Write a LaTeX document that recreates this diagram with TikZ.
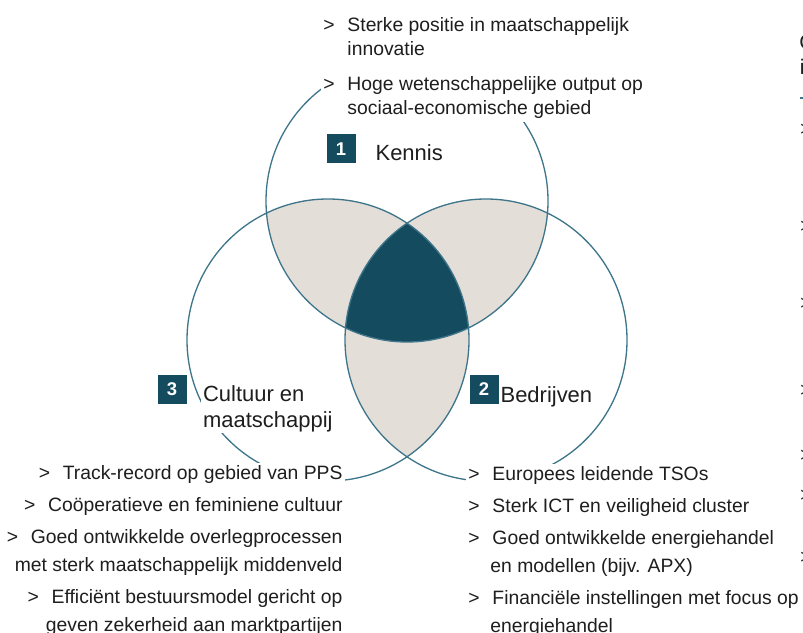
\documentclass[tikz,border=0pt]{standalone}
\usepackage{fontspec}
\setmainfont{Liberation Sans}
\usepackage{tikz}
\usetikzlibrary{positioning}

\definecolor{vennDark}{HTML}{144B5F}
\definecolor{vennLight}{HTML}{E4DED8}
\definecolor{vennLine}{HTML}{3E758A}
\definecolor{textGrey}{HTML}{1E1E1E}

% bullet marker with a fixed hanging indent
\newcommand{\pijl}{\makebox[0.48cm][l]{>}}

\begin{document}
\begin{tikzpicture}[
    font=\fontsize{11}{13.7}\selectfont, text=textGrey,
    numbox/.style={fill=vennDark, text=white, minimum size=0.58cm, inner sep=0pt,
      font=\fontsize{10.5}{10.5}\selectfont\bfseries},
    heading/.style={fill=white, inner sep=1pt, align=left,
      font=\fontsize{12.5}{14.5}\selectfont},
    bullets/.style={fill=white, inner sep=1.5pt},
    cutoff/.style={anchor=base west, inner sep=0pt}
  ]
  \useasboundingbox (0,0) rectangle (16.06,12.64);

  % three circles
  \coordinate (kc) at (8.14,8.62);
  \coordinate (bc) at (9.72,5.84);
  \coordinate (cc) at (6.56,5.84);
  \begin{scope}
    \clip (kc) circle (2.82);
    \fill[vennLight] (bc) circle (2.82);
    \fill[vennLight] (cc) circle (2.82);
  \end{scope}
  \begin{scope}
    \clip (bc) circle (2.82);
    \fill[vennLight] (cc) circle (2.82);
  \end{scope}
  \begin{scope}
    \clip (kc) circle (2.82);
    \clip (bc) circle (2.82);
    \fill[vennDark] (cc) circle (2.82);
  \end{scope}
  \draw[vennLine, line width=0.75pt] (kc) circle (2.82) (bc) circle (2.82) (cc) circle (2.82);

  % strengths per pillar (base = last line)
  \node[bullets, align=left, anchor=base west] (kennisLijst) at (6.41,10.34)
    {\pijl Sterke positie in maatschappelijk\\\hspace*{0.48cm}innovatie\\[0.22cm]
     \pijl Hoge wetenschappelijke output op\\\hspace*{0.48cm}sociaal-economische gebied};
  \node[bullets, align=left, anchor=base west,
    font=\fontsize{11}{15.9}\selectfont] (bedrijvenLijst) at (9.31,0.0)
    {\pijl Europees leidende TSOs\\[0.08cm]
     \pijl Sterk ICT en veiligheid cluster\\[0.08cm]
     \pijl Goed ontwikkelde energiehandel\\\hspace*{0.44cm}en modellen (bijv. APX)\\[0.08cm]
     \pijl Financiële instellingen met focus op\\\hspace*{0.44cm}energiehandel};
  \node[bullets, align=right, anchor=base east,
    font=\fontsize{11}{15.9}\selectfont] (cultuurLijst) at (6.91,0.02)
    {\pijl Track-record op gebied van PPS\\[0.08cm]
     \pijl Coöperatieve en feminiene cultuur\\[0.08cm]
     \pijl Goed ontwikkelde overlegprocessen\\met sterk maatschappelijk middenveld\\[0.08cm]
     \pijl Efficiënt bestuursmodel gericht op\\geven zekerheid aan marktpartijen};

  % numbered headings
  \node[numbox] (n1) at (6.82,9.66) {1};
  \node[heading, anchor=base west] (kennis) at (7.47,9.42) {Kennis};
  \node[numbox] (n2) at (9.68,4.86) {2};
  \node[heading, anchor=base west] (bedrijven) at (9.97,4.60) {Bedrijven};
  \node[numbox] (n3) at (3.44,4.86) {3};
  \node[heading, anchor=base west] (cultuur) at (4.02,4.10) {Cultuur en\\maatschappij};

  % next column, cut off at the edge
  \node[cutoff, font=\fontsize{12}{12}\selectfont] (volgendC) at (15.98,11.64) {C};
  \node[cutoff, font=\fontsize{12}{12}\selectfont] (volgendI) at (15.99,11.14) {i};
  \draw[vennLine, line width=1pt] (15.99,10.68) -- (16.2,10.68);
  \foreach \y [count=\i] in {9.92,7.98,6.44,4.72,3.42,2.62,1.38}
    \node[cutoff] (volgend\i) at (16.0,\y) {>};
\end{tikzpicture}
\end{document}
